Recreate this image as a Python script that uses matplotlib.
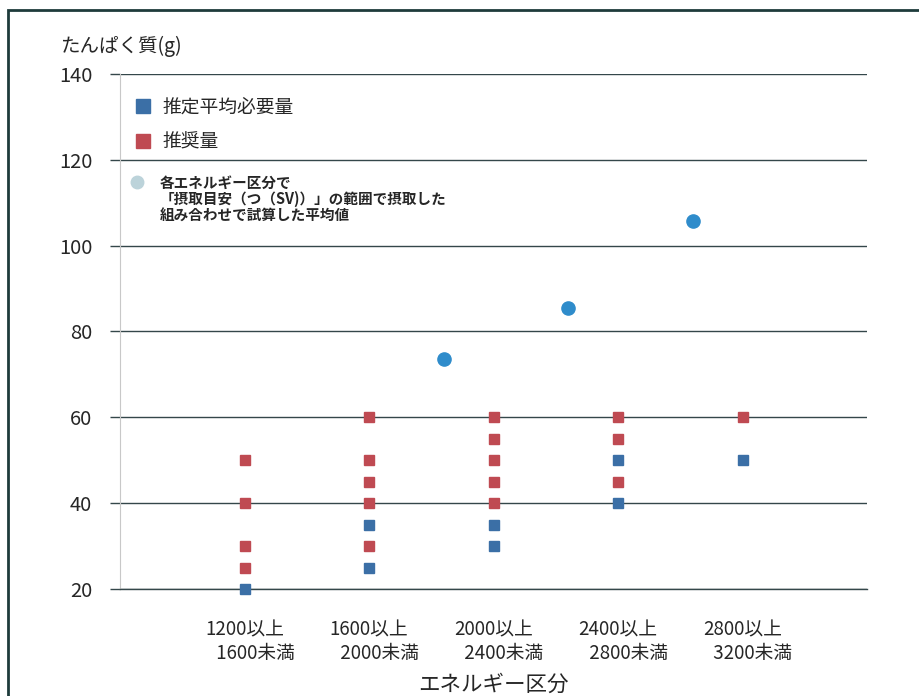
import matplotlib
matplotlib.use("Agg")
import matplotlib.pyplot as plt
from matplotlib.lines import Line2D
from matplotlib.patches import Rectangle

plt.rcParams['font.family'] = ['Noto Sans CJK JP', 'DejaVu Sans']

# ---- data ----
categories = ["1200以上\n     1600未満", "1600以上\n     2000未満", "2000以上\n     2400未満",
              "2400以上\n     2800未満", "2800以上\n     3200未満"]
cat_pos = [1, 2, 3, 4, 5]

# 推定平均必要量 (blue squares)
ear_x = [1, 2, 2, 3, 3, 4, 4, 5]
ear_y = [20, 35, 25, 35, 30, 50, 40, 50]

# 推奨量 (red squares)
rda_x = [1, 1, 1, 1, 2, 2, 2, 2, 2, 3, 3, 3, 3, 3, 4, 4, 4, 5]
rda_y = [50, 40, 30, 25, 60, 50, 45, 40, 30, 60, 55, 50, 45, 40, 60, 55, 45, 60]

# 平均値 (blue circles)
avg_x = [2.6, 3.6, 4.6]
avg_y = [73.5, 85.5, 105.8]

yticks = [20, 40, 60, 80, 100, 120, 140]

# ---- figure ----
fig = plt.figure(figsize=(9.2, 6.96), dpi=100)
W, H = 920, 696
ax = fig.add_axes([120 / W, 1 - 589 / H, (867 - 120) / W, (589 - 74) / H])

grid_c = '#34474a'
txt_c = '#262626'
ax.set_ylim(20, 140)
ax.set_xlim(0, 6)
ax.set_yticks(yticks)
ax.set_yticklabels([str(v) for v in yticks], fontsize=14.5, color=txt_c)
ax.yaxis.grid(True, color=grid_c, linewidth=1.0)
ax.set_axisbelow(True)
ax.tick_params(axis='y', length=7, color=grid_c, width=1.0, pad=13)
ax.set_xticks(cat_pos)
ax.set_xticklabels(categories, fontsize=13.5, color=txt_c, linespacing=1.15)
ax.tick_params(axis='x', length=0, pad=22)
for s in ['top', 'right']:
    ax.spines[s].set_visible(False)
ax.spines['bottom'].set_color(grid_c)
ax.spines['bottom'].set_linewidth(1.0)
ax.spines['left'].set_color('#c8c8c8')
ax.spines['left'].set_linewidth(0.8)

blue_sq = '#3b6fa6'
red_sq = '#bf4a52'
circ = '#2f8ccb'
ax.plot(rda_x, rda_y, linestyle='none', marker='s', ms=7, color=red_sq, zorder=3, clip_on=False)
ax.plot(ear_x, ear_y, linestyle='none', marker='s', ms=7, color=blue_sq, zorder=3, clip_on=False)
ax.plot(avg_x, avg_y, linestyle='none', marker='o', ms=9.5, color=circ, zorder=3, clip_on=False)

ax.set_xlabel('エネルギー区分', fontsize=15.5, color=txt_c, labelpad=7)
fig.text(60 / W, 1 - 46 / H, 'たんぱく質(g)', fontsize=14, color=txt_c, va='center')

# legends
h1 = Line2D([], [], linestyle='none', marker='s', ms=10, color=blue_sq)
h2 = Line2D([], [], linestyle='none', marker='s', ms=10, color=red_sq)
leg1 = ax.legend([h1, h2], ['推定平均必要量', '推奨量'], loc='upper left',
                 bbox_to_anchor=(0.0, 0.982), frameon=False, fontsize=13.5,
                 handletextpad=0.55, labelspacing=0.76, borderaxespad=0.3,
                 handlelength=1.0)
for t in leg1.get_texts():
    t.set_color(txt_c)
ax.add_artist(leg1)
h3 = Line2D([], [], linestyle='none', marker='o', ms=9, color='#bcd3da')
blank = Line2D([], [], linestyle='none')
leg2 = ax.legend([h3, blank, blank],
                 ['各エネルギー区分で', '「摂取目安（つ（SV)）」の範囲で摂取した', '組み合わせで試算した平均値'],
                 loc='upper left', bbox_to_anchor=(0.0, 0.825), frameon=False,
                 prop={'size': 10.5, 'weight': 'bold'}, handletextpad=1.0,
                 borderaxespad=0.3, handlelength=1.0, labelspacing=0.0)
for t in leg2.get_texts():
    t.set_color(txt_c)

# outer frame (partially cropped)
fig.patches.append(Rectangle((8 / W, -0.01), 1.05, (H - 10) / H + 0.01,
                             transform=fig.transFigure, fill=False,
                             edgecolor='#1e3b3b', linewidth=2.0))

fig.savefig('out.png', dpi=100)
